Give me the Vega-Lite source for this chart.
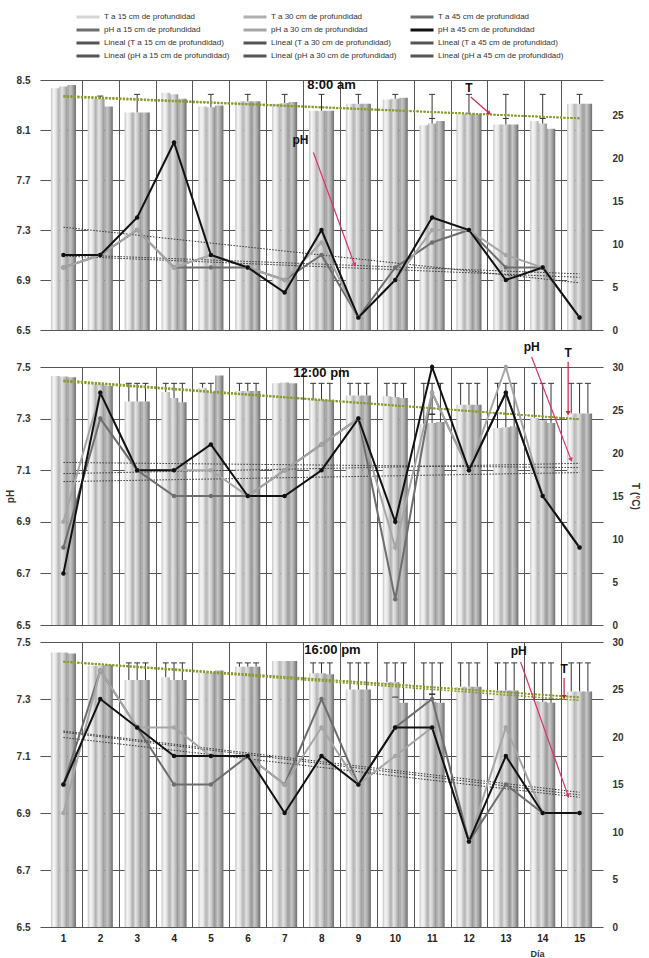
{
"$schema": "https://vega.github.io/schema/vega-lite/v6.json",
"padding": {"left": 5, "top": 12, "right": 2, "bottom": 0},
"config": {
  "view": {"stroke": null},
  "font": "Liberation Sans",
  "axis": {"labelFont": "Liberation Sans", "labelFontWeight": "bold", "labelFontSize": 10, "labelColor": "#333", "titleFont": "Liberation Sans", "titleFontWeight": "bold", "titleFontSize": 10, "titleColor": "#333", "gridColor": "#555", "gridWidth": 1, "gridOpacity": 1, "labelOverlap": false}
},
"datasets": {
"T": [
{"p":1,"d":1,"z":"15","T":28.1},{"p":1,"d":1,"z":"30","T":28.3},{"p":1,"d":1,"z":"45","T":28.5},
{"p":1,"d":2,"z":"15","T":26.9},{"p":1,"d":2,"z":"30","T":26.9,"hi":27.2},{"p":1,"d":2,"z":"45","T":26.0},
{"p":1,"d":3,"z":"15","T":25.3},{"p":1,"d":3,"z":"30","T":25.3,"hi":27.4},{"p":1,"d":3,"z":"45","T":25.3},
{"p":1,"d":4,"z":"15","T":27.6},{"p":1,"d":4,"z":"30","T":27.4},{"p":1,"d":4,"z":"45","T":26.9},
{"p":1,"d":5,"z":"15","T":26.0},{"p":1,"d":5,"z":"30","T":25.9,"hi":27.4},{"p":1,"d":5,"z":"45","T":26.1},
{"p":1,"d":6,"z":"15","T":26.6},{"p":1,"d":6,"z":"30","T":26.6,"hi":27.4},{"p":1,"d":6,"z":"45","T":26.6},
{"p":1,"d":7,"z":"15","T":26.3},{"p":1,"d":7,"z":"30","T":26.4,"hi":27.4},{"p":1,"d":7,"z":"45","T":26.5},
{"p":1,"d":8,"z":"15","T":25.5},{"p":1,"d":8,"z":"30","T":25.5,"hi":27.4},{"p":1,"d":8,"z":"45","T":25.5},
{"p":1,"d":9,"z":"15","T":26.3},{"p":1,"d":9,"z":"30","T":26.3,"hi":27.4},{"p":1,"d":9,"z":"45","T":26.3},
{"p":1,"d":10,"z":"15","T":26.8},{"p":1,"d":10,"z":"30","T":26.9,"hi":27.4},{"p":1,"d":10,"z":"45","T":27.0},
{"p":1,"d":11,"z":"15","T":23.8},{"p":1,"d":11,"z":"30","T":24.0,"hi":27.4,"lo":24.6},{"p":1,"d":11,"z":"45","T":24.3},
{"p":1,"d":12,"z":"15","T":25.1},{"p":1,"d":12,"z":"30","T":25.1,"hi":27.4},{"p":1,"d":12,"z":"45","T":25.1},
{"p":1,"d":13,"z":"15","T":23.9},{"p":1,"d":13,"z":"30","T":23.9,"hi":27.4,"lo":24.6},{"p":1,"d":13,"z":"45","T":23.9},
{"p":1,"d":14,"z":"15","T":24.3},{"p":1,"d":14,"z":"30","T":24.0,"hi":27.4,"lo":24.6},{"p":1,"d":14,"z":"45","T":23.4},
{"p":1,"d":15,"z":"15","T":26.3},{"p":1,"d":15,"z":"30","T":26.3,"hi":27.4},{"p":1,"d":15,"z":"45","T":26.3},
{"p":2,"d":1,"z":"15","T":28.95},{"p":2,"d":1,"z":"30","T":28.9},{"p":2,"d":1,"z":"45","T":28.8},
{"p":2,"d":2,"z":"15","T":28.0},{"p":2,"d":2,"z":"30","T":28.0},{"p":2,"d":2,"z":"45","T":27.8},
{"p":2,"d":3,"z":"15","T":26.0,"hi":28.1},{"p":2,"d":3,"z":"30","T":26.0,"hi":28.1},{"p":2,"d":3,"z":"45","T":26.0,"hi":28.1},
{"p":2,"d":4,"z":"15","T":27.1,"hi":28.1},{"p":2,"d":4,"z":"30","T":26.4,"hi":28.1},{"p":2,"d":4,"z":"45","T":25.9,"hi":28.1},
{"p":2,"d":5,"z":"15","T":27.6,"hi":28.1},{"p":2,"d":5,"z":"30","T":27.1,"hi":28.1},{"p":2,"d":5,"z":"45","T":29.0},
{"p":2,"d":6,"z":"15","T":27.2,"hi":28.1},{"p":2,"d":6,"z":"30","T":27.2,"hi":28.1},{"p":2,"d":6,"z":"45","T":27.2,"hi":28.1},
{"p":2,"d":7,"z":"15","T":28.1},{"p":2,"d":7,"z":"30","T":28.2},{"p":2,"d":7,"z":"45","T":28.1},
{"p":2,"d":8,"z":"15","T":26.2,"hi":28.1},{"p":2,"d":8,"z":"30","T":26.2,"hi":28.1},{"p":2,"d":8,"z":"45","T":26.2,"hi":28.1},
{"p":2,"d":9,"z":"15","T":26.7,"hi":28.1},{"p":2,"d":9,"z":"30","T":26.7,"hi":28.1},{"p":2,"d":9,"z":"45","T":26.7,"hi":28.1},
{"p":2,"d":10,"z":"15","T":26.6,"hi":28.1},{"p":2,"d":10,"z":"30","T":26.5,"hi":28.1},{"p":2,"d":10,"z":"45","T":26.4,"hi":28.1},
{"p":2,"d":11,"z":"15","T":23.4,"hi":28.1,"lo":24.5},{"p":2,"d":11,"z":"30","T":23.5,"hi":28.1,"lo":24.5},{"p":2,"d":11,"z":"45","T":23.6,"hi":28.1,"lo":24.5},
{"p":2,"d":12,"z":"15","T":25.6,"hi":28.1},{"p":2,"d":12,"z":"30","T":25.6,"hi":28.1},{"p":2,"d":12,"z":"45","T":25.6,"hi":28.1},
{"p":2,"d":13,"z":"15","T":22.9,"hi":28.1},{"p":2,"d":13,"z":"30","T":23.0,"hi":28.1},{"p":2,"d":13,"z":"45","T":23.1,"hi":28.1},
{"p":2,"d":14,"z":"15","T":24.1,"hi":28.1},{"p":2,"d":14,"z":"30","T":23.8,"hi":28.1},{"p":2,"d":14,"z":"45","T":23.5,"hi":28.1},
{"p":2,"d":15,"z":"15","T":24.6,"hi":28.1},{"p":2,"d":15,"z":"30","T":24.6,"hi":28.1},{"p":2,"d":15,"z":"45","T":24.6,"hi":28.1},
{"p":3,"d":1,"z":"15","T":28.9},{"p":3,"d":1,"z":"30","T":28.9},{"p":3,"d":1,"z":"45","T":28.8},
{"p":3,"d":2,"z":"15","T":27.5},{"p":3,"d":2,"z":"30","T":27.5},{"p":3,"d":2,"z":"45","T":27.6},
{"p":3,"d":3,"z":"15","T":26.0,"hi":27.8},{"p":3,"d":3,"z":"30","T":26.0,"hi":27.8},{"p":3,"d":3,"z":"45","T":26.0,"hi":27.8},
{"p":3,"d":4,"z":"15","T":26.3,"hi":27.8},{"p":3,"d":4,"z":"30","T":26.0,"hi":27.8},{"p":3,"d":4,"z":"45","T":26.0,"hi":27.8},
{"p":3,"d":5,"z":"15","T":26.8},{"p":3,"d":5,"z":"30","T":26.8},{"p":3,"d":5,"z":"45","T":27.0},
{"p":3,"d":6,"z":"15","T":27.4,"hi":27.8},{"p":3,"d":6,"z":"30","T":27.4,"hi":27.8},{"p":3,"d":6,"z":"45","T":27.4,"hi":27.8},
{"p":3,"d":7,"z":"15","T":28.0},{"p":3,"d":7,"z":"30","T":28.0},{"p":3,"d":7,"z":"45","T":28.0},
{"p":3,"d":8,"z":"15","T":26.7,"hi":27.8},{"p":3,"d":8,"z":"30","T":26.7,"hi":27.8},{"p":3,"d":8,"z":"45","T":26.6,"hi":27.8},
{"p":3,"d":9,"z":"15","T":25.0,"hi":27.8},{"p":3,"d":9,"z":"30","T":25.0,"hi":27.8},{"p":3,"d":9,"z":"45","T":25.0,"hi":27.8},
{"p":3,"d":10,"z":"15","T":25.8,"hi":27.8},{"p":3,"d":10,"z":"30","T":25.8,"hi":27.8},{"p":3,"d":10,"z":"45","T":23.6,"hi":27.8,"lo":24.2},
{"p":3,"d":11,"z":"15","T":23.9,"hi":27.8,"lo":24.5},{"p":3,"d":11,"z":"30","T":23.7,"hi":27.8,"lo":24.5},{"p":3,"d":11,"z":"45","T":23.6,"hi":27.8,"lo":24.5},
{"p":3,"d":12,"z":"15","T":25.3,"hi":27.8},{"p":3,"d":12,"z":"30","T":25.3,"hi":27.8},{"p":3,"d":12,"z":"45","T":25.3,"hi":27.8},
{"p":3,"d":13,"z":"15","T":24.9,"hi":27.8},{"p":3,"d":13,"z":"30","T":24.9,"hi":27.8},{"p":3,"d":13,"z":"45","T":24.9,"hi":27.8},
{"p":3,"d":14,"z":"15","T":23.8,"hi":27.8},{"p":3,"d":14,"z":"30","T":23.7,"hi":27.8},{"p":3,"d":14,"z":"45","T":23.6,"hi":27.8},
{"p":3,"d":15,"z":"15","T":24.8,"hi":27.8},{"p":3,"d":15,"z":"30","T":24.8,"hi":27.8},{"p":3,"d":15,"z":"45","T":24.8,"hi":27.8}
],
"pH": [
{"p":1,"d":1,"s":"pH a 15 cm de profundidad","v":7.0},{"p":1,"d":2,"s":"pH a 15 cm de profundidad","v":7.1},{"p":1,"d":3,"s":"pH a 15 cm de profundidad","v":7.3},{"p":1,"d":4,"s":"pH a 15 cm de profundidad","v":7.0},{"p":1,"d":5,"s":"pH a 15 cm de profundidad","v":7.0},{"p":1,"d":6,"s":"pH a 15 cm de profundidad","v":7.0},{"p":1,"d":7,"s":"pH a 15 cm de profundidad","v":6.9},{"p":1,"d":8,"s":"pH a 15 cm de profundidad","v":7.1},{"p":1,"d":9,"s":"pH a 15 cm de profundidad","v":6.6},{"p":1,"d":10,"s":"pH a 15 cm de profundidad","v":7.0},{"p":1,"d":11,"s":"pH a 15 cm de profundidad","v":7.2},{"p":1,"d":12,"s":"pH a 15 cm de profundidad","v":7.3},{"p":1,"d":13,"s":"pH a 15 cm de profundidad","v":7.0},{"p":1,"d":14,"s":"pH a 15 cm de profundidad","v":7.0},{"p":1,"d":15,"s":"pH a 15 cm de profundidad","v":6.6},
{"p":1,"d":1,"s":"pH a 30 cm de profundidad","v":7.0},{"p":1,"d":2,"s":"pH a 30 cm de profundidad","v":7.1},{"p":1,"d":3,"s":"pH a 30 cm de profundidad","v":7.3},{"p":1,"d":4,"s":"pH a 30 cm de profundidad","v":7.0},{"p":1,"d":5,"s":"pH a 30 cm de profundidad","v":7.1},{"p":1,"d":6,"s":"pH a 30 cm de profundidad","v":7.0},{"p":1,"d":7,"s":"pH a 30 cm de profundidad","v":6.9},{"p":1,"d":8,"s":"pH a 30 cm de profundidad","v":7.2},{"p":1,"d":9,"s":"pH a 30 cm de profundidad","v":6.6},{"p":1,"d":10,"s":"pH a 30 cm de profundidad","v":6.9},{"p":1,"d":11,"s":"pH a 30 cm de profundidad","v":7.3},{"p":1,"d":12,"s":"pH a 30 cm de profundidad","v":7.3},{"p":1,"d":13,"s":"pH a 30 cm de profundidad","v":7.1},{"p":1,"d":14,"s":"pH a 30 cm de profundidad","v":7.0},{"p":1,"d":15,"s":"pH a 30 cm de profundidad","v":6.6},
{"p":1,"d":1,"s":"pH a 45 cm de profundidad","v":7.1},{"p":1,"d":2,"s":"pH a 45 cm de profundidad","v":7.1},{"p":1,"d":3,"s":"pH a 45 cm de profundidad","v":7.4},{"p":1,"d":4,"s":"pH a 45 cm de profundidad","v":8.0},{"p":1,"d":5,"s":"pH a 45 cm de profundidad","v":7.1},{"p":1,"d":6,"s":"pH a 45 cm de profundidad","v":7.0},{"p":1,"d":7,"s":"pH a 45 cm de profundidad","v":6.8},{"p":1,"d":8,"s":"pH a 45 cm de profundidad","v":7.3},{"p":1,"d":9,"s":"pH a 45 cm de profundidad","v":6.6},{"p":1,"d":10,"s":"pH a 45 cm de profundidad","v":6.9},{"p":1,"d":11,"s":"pH a 45 cm de profundidad","v":7.4},{"p":1,"d":12,"s":"pH a 45 cm de profundidad","v":7.3},{"p":1,"d":13,"s":"pH a 45 cm de profundidad","v":6.9},{"p":1,"d":14,"s":"pH a 45 cm de profundidad","v":7.0},{"p":1,"d":15,"s":"pH a 45 cm de profundidad","v":6.6},
{"p":2,"d":1,"s":"pH a 15 cm de profundidad","v":6.8},{"p":2,"d":2,"s":"pH a 15 cm de profundidad","v":7.3},{"p":2,"d":3,"s":"pH a 15 cm de profundidad","v":7.1},{"p":2,"d":4,"s":"pH a 15 cm de profundidad","v":7.0},{"p":2,"d":5,"s":"pH a 15 cm de profundidad","v":7.0},{"p":2,"d":6,"s":"pH a 15 cm de profundidad","v":7.0},{"p":2,"d":7,"s":"pH a 15 cm de profundidad","v":7.1},{"p":2,"d":8,"s":"pH a 15 cm de profundidad","v":7.2},{"p":2,"d":9,"s":"pH a 15 cm de profundidad","v":7.3},{"p":2,"d":10,"s":"pH a 15 cm de profundidad","v":6.6},{"p":2,"d":11,"s":"pH a 15 cm de profundidad","v":7.4},{"p":2,"d":12,"s":"pH a 15 cm de profundidad","v":7.1},{"p":2,"d":13,"s":"pH a 15 cm de profundidad","v":7.4},{"p":2,"d":14,"s":"pH a 15 cm de profundidad","v":7.0},{"p":2,"d":15,"s":"pH a 15 cm de profundidad","v":6.8},
{"p":2,"d":1,"s":"pH a 30 cm de profundidad","v":6.9},{"p":2,"d":2,"s":"pH a 30 cm de profundidad","v":7.4},{"p":2,"d":3,"s":"pH a 30 cm de profundidad","v":7.1},{"p":2,"d":4,"s":"pH a 30 cm de profundidad","v":7.1},{"p":2,"d":5,"s":"pH a 30 cm de profundidad","v":7.1},{"p":2,"d":6,"s":"pH a 30 cm de profundidad","v":7.0},{"p":2,"d":7,"s":"pH a 30 cm de profundidad","v":7.1},{"p":2,"d":8,"s":"pH a 30 cm de profundidad","v":7.2},{"p":2,"d":9,"s":"pH a 30 cm de profundidad","v":7.3},{"p":2,"d":10,"s":"pH a 30 cm de profundidad","v":6.8},{"p":2,"d":11,"s":"pH a 30 cm de profundidad","v":7.4},{"p":2,"d":12,"s":"pH a 30 cm de profundidad","v":7.1},{"p":2,"d":13,"s":"pH a 30 cm de profundidad","v":7.5},{"p":2,"d":14,"s":"pH a 30 cm de profundidad","v":7.0},{"p":2,"d":15,"s":"pH a 30 cm de profundidad","v":6.8},
{"p":2,"d":1,"s":"pH a 45 cm de profundidad","v":6.7},{"p":2,"d":2,"s":"pH a 45 cm de profundidad","v":7.4},{"p":2,"d":3,"s":"pH a 45 cm de profundidad","v":7.1},{"p":2,"d":4,"s":"pH a 45 cm de profundidad","v":7.1},{"p":2,"d":5,"s":"pH a 45 cm de profundidad","v":7.2},{"p":2,"d":6,"s":"pH a 45 cm de profundidad","v":7.0},{"p":2,"d":7,"s":"pH a 45 cm de profundidad","v":7.0},{"p":2,"d":8,"s":"pH a 45 cm de profundidad","v":7.1},{"p":2,"d":9,"s":"pH a 45 cm de profundidad","v":7.3},{"p":2,"d":10,"s":"pH a 45 cm de profundidad","v":6.9},{"p":2,"d":11,"s":"pH a 45 cm de profundidad","v":7.5},{"p":2,"d":12,"s":"pH a 45 cm de profundidad","v":7.1},{"p":2,"d":13,"s":"pH a 45 cm de profundidad","v":7.4},{"p":2,"d":14,"s":"pH a 45 cm de profundidad","v":7.0},{"p":2,"d":15,"s":"pH a 45 cm de profundidad","v":6.8},
{"p":3,"d":1,"s":"pH a 15 cm de profundidad","v":7.0},{"p":3,"d":2,"s":"pH a 15 cm de profundidad","v":7.4},{"p":3,"d":3,"s":"pH a 15 cm de profundidad","v":7.2},{"p":3,"d":4,"s":"pH a 15 cm de profundidad","v":7.0},{"p":3,"d":5,"s":"pH a 15 cm de profundidad","v":7.0},{"p":3,"d":6,"s":"pH a 15 cm de profundidad","v":7.1},{"p":3,"d":7,"s":"pH a 15 cm de profundidad","v":7.0},{"p":3,"d":8,"s":"pH a 15 cm de profundidad","v":7.3},{"p":3,"d":9,"s":"pH a 15 cm de profundidad","v":7.0},{"p":3,"d":10,"s":"pH a 15 cm de profundidad","v":7.2},{"p":3,"d":11,"s":"pH a 15 cm de profundidad","v":7.3},{"p":3,"d":12,"s":"pH a 15 cm de profundidad","v":6.8},{"p":3,"d":13,"s":"pH a 15 cm de profundidad","v":7.0},{"p":3,"d":14,"s":"pH a 15 cm de profundidad","v":6.9},{"p":3,"d":15,"s":"pH a 15 cm de profundidad","v":6.9},
{"p":3,"d":1,"s":"pH a 30 cm de profundidad","v":6.9},{"p":3,"d":2,"s":"pH a 30 cm de profundidad","v":7.4},{"p":3,"d":3,"s":"pH a 30 cm de profundidad","v":7.2},{"p":3,"d":4,"s":"pH a 30 cm de profundidad","v":7.2},{"p":3,"d":5,"s":"pH a 30 cm de profundidad","v":7.1},{"p":3,"d":6,"s":"pH a 30 cm de profundidad","v":7.1},{"p":3,"d":7,"s":"pH a 30 cm de profundidad","v":7.0},{"p":3,"d":8,"s":"pH a 30 cm de profundidad","v":7.2},{"p":3,"d":9,"s":"pH a 30 cm de profundidad","v":7.0},{"p":3,"d":10,"s":"pH a 30 cm de profundidad","v":7.1},{"p":3,"d":11,"s":"pH a 30 cm de profundidad","v":7.2},{"p":3,"d":12,"s":"pH a 30 cm de profundidad","v":6.8},{"p":3,"d":13,"s":"pH a 30 cm de profundidad","v":7.2},{"p":3,"d":14,"s":"pH a 30 cm de profundidad","v":6.9},{"p":3,"d":15,"s":"pH a 30 cm de profundidad","v":6.9},
{"p":3,"d":1,"s":"pH a 45 cm de profundidad","v":7.0},{"p":3,"d":2,"s":"pH a 45 cm de profundidad","v":7.3},{"p":3,"d":3,"s":"pH a 45 cm de profundidad","v":7.2},{"p":3,"d":4,"s":"pH a 45 cm de profundidad","v":7.1},{"p":3,"d":5,"s":"pH a 45 cm de profundidad","v":7.1},{"p":3,"d":6,"s":"pH a 45 cm de profundidad","v":7.1},{"p":3,"d":7,"s":"pH a 45 cm de profundidad","v":6.9},{"p":3,"d":8,"s":"pH a 45 cm de profundidad","v":7.1},{"p":3,"d":9,"s":"pH a 45 cm de profundidad","v":7.0},{"p":3,"d":10,"s":"pH a 45 cm de profundidad","v":7.2},{"p":3,"d":11,"s":"pH a 45 cm de profundidad","v":7.2},{"p":3,"d":12,"s":"pH a 45 cm de profundidad","v":6.8},{"p":3,"d":13,"s":"pH a 45 cm de profundidad","v":7.1},{"p":3,"d":14,"s":"pH a 45 cm de profundidad","v":6.9},{"p":3,"d":15,"s":"pH a 45 cm de profundidad","v":6.9}
],
"notes": [
{"p":1,"k":"phtext","t":"pH","d":7.43,"v":8.02},
{"p":1,"k":"pharrow","d":7.78,"v":7.92,"d2":8.9,"v2":7.02},
{"p":1,"k":"ttext","t":"T","d":12.0,"v":28.1},
{"p":1,"k":"tarrow","d":12.05,"v":27.1,"d2":12.55,"v2":25.2},
{"p":2,"k":"phtext","t":"pH","d":13.7,"v":7.578},
{"p":2,"k":"pharrow","d":13.7,"v":7.539,"d2":14.77,"v2":7.14},
{"p":2,"k":"ttext","t":"T","d":14.69,"v":31.6},
{"p":2,"k":"tarrow","d":14.69,"v":30.6,"d2":14.69,"v2":24.65},
{"p":3,"k":"phtext","t":"pH","d":13.35,"v":7.47},
{"p":3,"k":"pharrow","d":13.4,"v":7.43,"d2":14.69,"v2":6.96},
{"p":3,"k":"ttext","t":"T","d":14.58,"v":27.2},
{"p":3,"k":"tarrow","d":14.58,"v":26.2,"d2":14.58,"v2":24.2}
]
},
"spacing": 37,
"bounds": "flush",
"vconcat": [
{
 "width": 563, "height": 250,
 "title": {"text": "8:00 am", "offset": -17, "dx": 10, "fontSize": 13, "fontWeight": "bold", "color": "#111", "anchor": "middle"},
 "resolve": {"scale": {"y": "independent"}},
 "layer": [
  {
   "layer": [
    {"data": {"name": "T"}, "transform": [{"filter": "datum.p === 1 && datum.z === '15'"}],
     "mark": {"type": "bar", "orient": "vertical", "width": 8.4, "xOffset": -8.33, "color": {"gradient": "linear", "x1": 0, "x2": 1, "y1": 0, "y2": 0, "stops": [{"offset": 0, "color": "#c4c4c4"}, {"offset": 0.3, "color": "#f6f6f6"}, {"offset": 0.6, "color": "#e4e4e4"}, {"offset": 1, "color": "#a8a8a8"}]}},
     "encoding": {"x": {"field": "d", "type": "quantitative", "scale": {"domain": [0.5, 15.5], "nice": false, "zero": false}, "axis": {"orient": "bottom", "values": [1.5,2.5,3.5,4.5,5.5,6.5,7.5,8.5,9.5,10.5,11.5,12.5,13.5,14.5], "grid": true, "labels": false, "ticks": false, "domain": false, "title": null}},
                  "y": {"field": "T", "type": "quantitative", "scale": {"domain": [0, 29.07], "nice": false}, "axis": {"orient": "right", "values": [0,5,10,15,20,25], "grid": false, "domain": false, "ticks": false, "labelPadding": 9, "labelOverlap": false, "title": null}}}},
    {"data": {"name": "T"}, "transform": [{"filter": "datum.p === 1 && datum.z === '30'"}],
     "mark": {"type": "bar", "orient": "vertical", "width": 8.4, "xOffset": 0, "color": {"gradient": "linear", "x1": 0, "x2": 1, "y1": 0, "y2": 0, "stops": [{"offset": 0, "color": "#b0b0b0"}, {"offset": 0.3, "color": "#e4e4e4"}, {"offset": 0.6, "color": "#c8c8c8"}, {"offset": 1, "color": "#8e8e8e"}]}},
     "encoding": {"x": {"field": "d", "type": "quantitative"}, "y": {"field": "T", "type": "quantitative"}}},
    {"data": {"name": "T"}, "transform": [{"filter": "datum.p === 1 && datum.z === '45'"}],
     "mark": {"type": "bar", "orient": "vertical", "width": 8.4, "xOffset": 8.33, "color": {"gradient": "linear", "x1": 0, "x2": 1, "y1": 0, "y2": 0, "stops": [{"offset": 0, "color": "#9a9a9a"}, {"offset": 0.3, "color": "#c8c8c8"}, {"offset": 0.6, "color": "#a8a8a8"}, {"offset": 1, "color": "#6c6c6c"}]}},
     "encoding": {"x": {"field": "d", "type": "quantitative"}, "y": {"field": "T", "type": "quantitative"}}},
    {"data": {"name": "T"}, "transform": [{"filter": "datum.p === 1 && isValid(datum.hi)"}],
     "mark": {"type": "rule", "color": "#333", "strokeWidth": 1},
     "encoding": {"x": {"field": "d", "type": "quantitative"}, "y": {"field": "T", "type": "quantitative"}, "y2": {"field": "hi"}}},
    {"data": {"name": "T"}, "transform": [{"filter": "datum.p === 1 && isValid(datum.hi)"}],
     "mark": {"type": "point", "shape": "stroke", "size": 36, "color": "#333", "strokeWidth": 1, "filled": false, "opacity": 1},
     "encoding": {"x": {"field": "d", "type": "quantitative"}, "y": {"field": "hi", "type": "quantitative"}}},
    {"data": {"name": "T"}, "transform": [{"filter": "datum.p === 1 && isValid(datum.lo)"}],
     "mark": {"type": "point", "shape": "stroke", "size": 36, "color": "#333", "strokeWidth": 1, "filled": false, "opacity": 1},
     "encoding": {"x": {"field": "d", "type": "quantitative"}, "y": {"field": "lo", "type": "quantitative"}}},
    {"data": {"name": "T"}, "transform": [{"filter": "datum.p === 1"}, {"regression": "T", "on": "d", "groupby": ["z"]}],
     "mark": {"type": "line", "color": "#8c9a2a", "strokeDash": [2, 1.5], "strokeWidth": 1.6},
     "encoding": {"x": {"field": "d", "type": "quantitative"}, "y": {"field": "T", "type": "quantitative"}, "detail": {"field": "z"}}},
    {"data": {"name": "notes"}, "transform": [{"filter": "datum.p === 1 && datum.k === 'tarrow'"}],
     "mark": {"type": "rule", "color": "#d8244a", "strokeWidth": 1.2},
     "encoding": {"x": {"field": "d", "type": "quantitative"}, "y": {"field": "v", "type": "quantitative"}, "x2": {"field": "d2"}, "y2": {"field": "v2"}}},
    {"data": {"name": "notes"}, "transform": [{"filter": "datum.p === 1 && datum.k === 'tarrow'"}],
     "mark": {"type": "point", "shape": "triangle-down", "filled": true, "size": 24, "color": "#d8244a", "opacity": 1, "angle": 310},
     "encoding": {"x": {"field": "d2", "type": "quantitative"}, "y": {"field": "v2", "type": "quantitative"}}},
    {"data": {"name": "notes"}, "transform": [{"filter": "datum.p === 1 && datum.k === 'ttext'"}],
     "mark": {"type": "text", "fontSize": 12, "fontWeight": "bold", "color": "#111"},
     "encoding": {"x": {"field": "d", "type": "quantitative"}, "y": {"field": "v", "type": "quantitative"}, "text": {"field": "t"}}}
   ]
  },
  {
   "layer": [
    {"data": {"name": "pH"}, "transform": [{"filter": "datum.p === 1"}, {"regression": "v", "on": "d", "groupby": ["s"]}],
     "mark": {"type": "line", "color": "#333", "strokeDash": [1.5, 1.5], "strokeWidth": 1},
     "encoding": {"x": {"field": "d", "type": "quantitative", "axis": {"orient": "bottom", "values": [1.5,2.5,3.5,4.5,5.5,6.5,7.5,8.5,9.5,10.5,11.5,12.5,13.5,14.5], "grid": true, "labels": false, "ticks": false, "domain": false, "title": null}},
                  "y": {"field": "v", "type": "quantitative", "scale": {"domain": [6.5, 8.5], "nice": false, "zero": false}, "axis": {"orient": "left", "values": [6.5,6.7,6.9,7.1,7.3,7.5,7.7,7.9,8.1,8.3,8.5], "format": ".1f", "grid": true, "domain": false, "ticks": false, "labelPadding": 10, "labelOverlap": false, "labelSeparation": -40, "title": null}},
                  "detail": {"field": "s"}}},
    {"data": {"name": "pH"}, "transform": [{"filter": "datum.p === 1"}],
     "mark": {"type": "line", "strokeWidth": 2, "point": {"filled": true, "size": 20}},
     "encoding": {"x": {"field": "d", "type": "quantitative"},
                  "y": {"field": "v", "type": "quantitative"},
                  "color": {"field": "s", "type": "nominal",
                    "scale": {"domain": ["T a 15 cm de profundidad","T a 30 cm de profundidad","T a 45 cm de profundidad","pH a 15 cm de profundidad","pH a 30 cm de profundidad","pH a 45 cm de profundidad","Lineal (T a 15 cm de profundidad)","Lineal (T a 30 cm de profundidad)","Lineal (T a 45 cm de profundidad)","Lineal (pH a 15 cm de profundidad)","Lineal (pH a 30 cm de profundidad)","Lineal (pH a 45 cm de profundidad)"], "range": ["#d6d6d6","#b0b0b0","#6e6e6e","#6e6e6e","#a6a6a6","#111111","#555555","#555555","#555555","#555555","#555555","#555555"]},
                    "legend": {"title": null, "orient": "none", "legendX": 35, "legendY": -68, "columns": 3, "direction": "horizontal", "symbolType": "stroke", "symbolSize": 529, "symbolStrokeWidth": 3, "clipHeight": 10, "rowPadding": 3, "columnPadding": 12, "labelOffset": 3, "labelFontSize": 8, "labelFont": "Liberation Sans", "labelColor": "#333", "labelLimit": 0}}}},
    {"data": {"name": "notes"}, "transform": [{"filter": "datum.p === 1 && datum.k === 'pharrow'"}],
     "mark": {"type": "rule", "color": "#e0306a", "strokeWidth": 1.2},
     "encoding": {"x": {"field": "d", "type": "quantitative"}, "y": {"field": "v", "type": "quantitative"}, "x2": {"field": "d2"}, "y2": {"field": "v2"}}},
    {"data": {"name": "notes"}, "transform": [{"filter": "datum.p === 1 && datum.k === 'pharrow'"}],
     "mark": {"type": "point", "shape": "triangle-down", "filled": true, "size": 24, "color": "#e0306a", "opacity": 1, "angle": 340},
     "encoding": {"x": {"field": "d2", "type": "quantitative"}, "y": {"field": "v2", "type": "quantitative"}}},
    {"data": {"name": "notes"}, "transform": [{"filter": "datum.p === 1 && datum.k === 'phtext'"}],
     "mark": {"type": "text", "fontSize": 12, "fontWeight": "bold", "color": "#111"},
     "encoding": {"x": {"field": "d", "type": "quantitative"}, "y": {"field": "v", "type": "quantitative"}, "text": {"field": "t"}}}
   ]
  }
 ]
},
{
 "spacing": 17,
 "bounds": "flush",
 "vconcat": [
 {
 "width": 563, "height": 258,
 "title": {"text": "12:00 pm", "offset": -39, "dx": 0, "fontSize": 13, "fontWeight": "bold", "color": "#111", "anchor": "middle"},
 "resolve": {"scale": {"y": "independent"}},
 "layer": [
  {
   "layer": [
    {"data": {"name": "T"}, "transform": [{"filter": "datum.p === 2 && datum.z === '15'"}],
     "mark": {"type": "bar", "orient": "vertical", "width": 8.4, "xOffset": -8.33, "color": {"gradient": "linear", "x1": 0, "x2": 1, "y1": 0, "y2": 0, "stops": [{"offset": 0, "color": "#c4c4c4"}, {"offset": 0.3, "color": "#f6f6f6"}, {"offset": 0.6, "color": "#e4e4e4"}, {"offset": 1, "color": "#a8a8a8"}]}},
     "encoding": {"x": {"field": "d", "type": "quantitative", "scale": {"domain": [0.5, 15.5], "nice": false, "zero": false}, "axis": {"orient": "bottom", "values": [1.5,2.5,3.5,4.5,5.5,6.5,7.5,8.5,9.5,10.5,11.5,12.5,13.5,14.5], "grid": true, "labels": false, "ticks": false, "domain": false, "title": null}},
                  "y": {"field": "T", "type": "quantitative", "scale": {"domain": [0, 30], "nice": false}, "axis": {"orient": "right", "values": [0,5,10,15,20,25,30], "grid": false, "domain": false, "ticks": false, "labelPadding": 9, "labelOverlap": false, "title": "T (°C)", "titlePadding": 6}}}},
    {"data": {"name": "T"}, "transform": [{"filter": "datum.p === 2 && datum.z === '30'"}],
     "mark": {"type": "bar", "orient": "vertical", "width": 8.4, "xOffset": 0, "color": {"gradient": "linear", "x1": 0, "x2": 1, "y1": 0, "y2": 0, "stops": [{"offset": 0, "color": "#b0b0b0"}, {"offset": 0.3, "color": "#e4e4e4"}, {"offset": 0.6, "color": "#c8c8c8"}, {"offset": 1, "color": "#8e8e8e"}]}},
     "encoding": {"x": {"field": "d", "type": "quantitative"}, "y": {"field": "T", "type": "quantitative"}}},
    {"data": {"name": "T"}, "transform": [{"filter": "datum.p === 2 && datum.z === '45'"}],
     "mark": {"type": "bar", "orient": "vertical", "width": 8.4, "xOffset": 8.33, "color": {"gradient": "linear", "x1": 0, "x2": 1, "y1": 0, "y2": 0, "stops": [{"offset": 0, "color": "#9a9a9a"}, {"offset": 0.3, "color": "#c8c8c8"}, {"offset": 0.6, "color": "#a8a8a8"}, {"offset": 1, "color": "#6c6c6c"}]}},
     "encoding": {"x": {"field": "d", "type": "quantitative"}, "y": {"field": "T", "type": "quantitative"}}},
    {"data": {"name": "T"}, "transform": [{"filter": "datum.p === 2 && datum.z === '15' && isValid(datum.hi)"}],
     "mark": {"type": "rule", "color": "#333", "strokeWidth": 1, "xOffset": -8.33},
     "encoding": {"x": {"field": "d", "type": "quantitative"}, "y": {"field": "T", "type": "quantitative"}, "y2": {"field": "hi"}}},
    {"data": {"name": "T"}, "transform": [{"filter": "datum.p === 2 && datum.z === '30' && isValid(datum.hi)"}],
     "mark": {"type": "rule", "color": "#333", "strokeWidth": 1, "xOffset": 0},
     "encoding": {"x": {"field": "d", "type": "quantitative"}, "y": {"field": "T", "type": "quantitative"}, "y2": {"field": "hi"}}},
    {"data": {"name": "T"}, "transform": [{"filter": "datum.p === 2 && datum.z === '45' && isValid(datum.hi)"}],
     "mark": {"type": "rule", "color": "#333", "strokeWidth": 1, "xOffset": 8.33},
     "encoding": {"x": {"field": "d", "type": "quantitative"}, "y": {"field": "T", "type": "quantitative"}, "y2": {"field": "hi"}}},
    {"data": {"name": "T"}, "transform": [{"filter": "datum.p === 2 && datum.z === '15' && isValid(datum.hi)"}],
     "mark": {"type": "point", "shape": "stroke", "size": 36, "color": "#333", "strokeWidth": 1, "filled": false, "opacity": 1, "xOffset": -8.33},
     "encoding": {"x": {"field": "d", "type": "quantitative"}, "y": {"field": "hi", "type": "quantitative"}}},
    {"data": {"name": "T"}, "transform": [{"filter": "datum.p === 2 && datum.z === '30' && isValid(datum.hi)"}],
     "mark": {"type": "point", "shape": "stroke", "size": 36, "color": "#333", "strokeWidth": 1, "filled": false, "opacity": 1, "xOffset": 0},
     "encoding": {"x": {"field": "d", "type": "quantitative"}, "y": {"field": "hi", "type": "quantitative"}}},
    {"data": {"name": "T"}, "transform": [{"filter": "datum.p === 2 && datum.z === '45' && isValid(datum.hi)"}],
     "mark": {"type": "point", "shape": "stroke", "size": 36, "color": "#333", "strokeWidth": 1, "filled": false, "opacity": 1, "xOffset": 8.33},
     "encoding": {"x": {"field": "d", "type": "quantitative"}, "y": {"field": "hi", "type": "quantitative"}}},
    {"data": {"name": "T"}, "transform": [{"filter": "datum.p === 2 && isValid(datum.lo)"}],
     "mark": {"type": "point", "shape": "stroke", "size": 36, "color": "#333", "strokeWidth": 1, "filled": false, "opacity": 1},
     "encoding": {"x": {"field": "d", "type": "quantitative"}, "y": {"field": "lo", "type": "quantitative"}}},
    {"data": {"name": "T"}, "transform": [{"filter": "datum.p === 2"}, {"regression": "T", "on": "d", "groupby": ["z"]}],
     "mark": {"type": "line", "color": "#8c9a2a", "strokeDash": [2, 1.5], "strokeWidth": 1.6},
     "encoding": {"x": {"field": "d", "type": "quantitative"}, "y": {"field": "T", "type": "quantitative"}, "detail": {"field": "z"}}},
    {"data": {"name": "notes"}, "transform": [{"filter": "datum.p === 2 && datum.k === 'tarrow'"}],
     "mark": {"type": "rule", "color": "#c8203a", "strokeWidth": 1.2},
     "encoding": {"x": {"field": "d", "type": "quantitative"}, "y": {"field": "v", "type": "quantitative"}, "x2": {"field": "d2"}, "y2": {"field": "v2"}}},
    {"data": {"name": "notes"}, "transform": [{"filter": "datum.p === 2 && datum.k === 'tarrow'"}],
     "mark": {"type": "point", "shape": "triangle-down", "filled": true, "size": 24, "color": "#c8203a", "opacity": 1, "angle": 0},
     "encoding": {"x": {"field": "d2", "type": "quantitative"}, "y": {"field": "v2", "type": "quantitative"}}},
    {"data": {"name": "notes"}, "transform": [{"filter": "datum.p === 2 && datum.k === 'ttext'"}],
     "mark": {"type": "text", "fontSize": 12, "fontWeight": "bold", "color": "#111"},
     "encoding": {"x": {"field": "d", "type": "quantitative"}, "y": {"field": "v", "type": "quantitative"}, "text": {"field": "t"}}}
   ]
  },
  {
   "layer": [
    {"data": {"name": "pH"}, "transform": [{"filter": "datum.p === 2"}, {"regression": "v", "on": "d", "groupby": ["s"]}],
     "mark": {"type": "line", "color": "#333", "strokeDash": [1.5, 1.5], "strokeWidth": 1},
     "encoding": {"x": {"field": "d", "type": "quantitative", "axis": {"orient": "bottom", "values": [1.5,2.5,3.5,4.5,5.5,6.5,7.5,8.5,9.5,10.5,11.5,12.5,13.5,14.5], "grid": true, "labels": false, "ticks": false, "domain": false, "title": null}},
                  "y": {"field": "v", "type": "quantitative", "scale": {"domain": [6.5, 7.5], "nice": false, "zero": false}, "axis": {"orient": "left", "values": [6.5,6.6,6.7,6.8,6.9,7.0,7.1,7.2,7.3,7.4,7.5], "format": "~g", "grid": true, "domain": false, "ticks": false, "labelPadding": 10, "labelOverlap": false, "labelSeparation": -40, "title": "pH", "titlePadding": 1}},
                  "detail": {"field": "s"}}},
    {"data": {"name": "pH"}, "transform": [{"filter": "datum.p === 2"}],
     "mark": {"type": "line", "strokeWidth": 2, "point": {"filled": true, "size": 20}},
     "encoding": {"x": {"field": "d", "type": "quantitative"},
                  "y": {"field": "v", "type": "quantitative"},
                  "color": {"field": "s", "type": "nominal"}}},
    {"data": {"name": "notes"}, "transform": [{"filter": "datum.p === 2 && datum.k === 'pharrow'"}],
     "mark": {"type": "rule", "color": "#e0306a", "strokeWidth": 1.2},
     "encoding": {"x": {"field": "d", "type": "quantitative"}, "y": {"field": "v", "type": "quantitative"}, "x2": {"field": "d2"}, "y2": {"field": "v2"}}},
    {"data": {"name": "notes"}, "transform": [{"filter": "datum.p === 2 && datum.k === 'pharrow'"}],
     "mark": {"type": "point", "shape": "triangle-down", "filled": true, "size": 24, "color": "#e0306a", "opacity": 1, "angle": 339},
     "encoding": {"x": {"field": "d2", "type": "quantitative"}, "y": {"field": "v2", "type": "quantitative"}}},
    {"data": {"name": "notes"}, "transform": [{"filter": "datum.p === 2 && datum.k === 'phtext'"}],
     "mark": {"type": "text", "fontSize": 12, "fontWeight": "bold", "color": "#111"},
     "encoding": {"x": {"field": "d", "type": "quantitative"}, "y": {"field": "v", "type": "quantitative"}, "text": {"field": "t"}}}
   ]
  }
 ]
 },
 {
 "width": 563, "height": 285,
 "title": {"text": "16:00 pm", "offset": -20, "dx": 11, "fontSize": 13, "fontWeight": "bold", "color": "#111", "anchor": "middle"},
 "resolve": {"scale": {"y": "independent"}},
 "layer": [
  {
   "layer": [
    {"data": {"name": "T"}, "transform": [{"filter": "datum.p === 3 && datum.z === '15'"}],
     "mark": {"type": "bar", "orient": "vertical", "width": 8.4, "xOffset": -8.33, "color": {"gradient": "linear", "x1": 0, "x2": 1, "y1": 0, "y2": 0, "stops": [{"offset": 0, "color": "#c4c4c4"}, {"offset": 0.3, "color": "#f6f6f6"}, {"offset": 0.6, "color": "#e4e4e4"}, {"offset": 1, "color": "#a8a8a8"}]}},
     "encoding": {"x": {"field": "d", "type": "quantitative", "scale": {"domain": [0.5, 15.5], "nice": false, "zero": false}, "axis": {"orient": "bottom", "values": [1.5,2.5,3.5,4.5,5.5,6.5,7.5,8.5,9.5,10.5,11.5,12.5,13.5,14.5,15.5], "grid": true, "gridOpacity": {"condition": {"test": "datum.value > 15", "value": 0}, "value": 1}, "labelExpr": "datum.value - 0.5", "labelOffset": -18.77, "labelPadding": 6, "labelColor": "#222", "labelOverlap": false, "ticks": false, "domain": false, "title": "Día", "titleX": 497, "titleY": 26, "titleBaseline": "middle", "titleFontSize": 9}},
                  "y": {"field": "T", "type": "quantitative", "scale": {"domain": [0, 30], "nice": false}, "axis": {"orient": "right", "values": [0,5,10,15,20,25,30], "grid": false, "domain": false, "ticks": false, "labelPadding": 9, "labelOverlap": false, "title": null}}}},
    {"data": {"name": "T"}, "transform": [{"filter": "datum.p === 3 && datum.z === '30'"}],
     "mark": {"type": "bar", "orient": "vertical", "width": 8.4, "xOffset": 0, "color": {"gradient": "linear", "x1": 0, "x2": 1, "y1": 0, "y2": 0, "stops": [{"offset": 0, "color": "#b0b0b0"}, {"offset": 0.3, "color": "#e4e4e4"}, {"offset": 0.6, "color": "#c8c8c8"}, {"offset": 1, "color": "#8e8e8e"}]}},
     "encoding": {"x": {"field": "d", "type": "quantitative"}, "y": {"field": "T", "type": "quantitative"}}},
    {"data": {"name": "T"}, "transform": [{"filter": "datum.p === 3 && datum.z === '45'"}],
     "mark": {"type": "bar", "orient": "vertical", "width": 8.4, "xOffset": 8.33, "color": {"gradient": "linear", "x1": 0, "x2": 1, "y1": 0, "y2": 0, "stops": [{"offset": 0, "color": "#9a9a9a"}, {"offset": 0.3, "color": "#c8c8c8"}, {"offset": 0.6, "color": "#a8a8a8"}, {"offset": 1, "color": "#6c6c6c"}]}},
     "encoding": {"x": {"field": "d", "type": "quantitative"}, "y": {"field": "T", "type": "quantitative"}}},
    {"data": {"name": "T"}, "transform": [{"filter": "datum.p === 3 && datum.z === '15' && isValid(datum.hi)"}],
     "mark": {"type": "rule", "color": "#333", "strokeWidth": 1, "xOffset": -8.33},
     "encoding": {"x": {"field": "d", "type": "quantitative"}, "y": {"field": "T", "type": "quantitative"}, "y2": {"field": "hi"}}},
    {"data": {"name": "T"}, "transform": [{"filter": "datum.p === 3 && datum.z === '30' && isValid(datum.hi)"}],
     "mark": {"type": "rule", "color": "#333", "strokeWidth": 1, "xOffset": 0},
     "encoding": {"x": {"field": "d", "type": "quantitative"}, "y": {"field": "T", "type": "quantitative"}, "y2": {"field": "hi"}}},
    {"data": {"name": "T"}, "transform": [{"filter": "datum.p === 3 && datum.z === '45' && isValid(datum.hi)"}],
     "mark": {"type": "rule", "color": "#333", "strokeWidth": 1, "xOffset": 8.33},
     "encoding": {"x": {"field": "d", "type": "quantitative"}, "y": {"field": "T", "type": "quantitative"}, "y2": {"field": "hi"}}},
    {"data": {"name": "T"}, "transform": [{"filter": "datum.p === 3 && datum.z === '15' && isValid(datum.hi)"}],
     "mark": {"type": "point", "shape": "stroke", "size": 36, "color": "#333", "strokeWidth": 1, "filled": false, "opacity": 1, "xOffset": -8.33},
     "encoding": {"x": {"field": "d", "type": "quantitative"}, "y": {"field": "hi", "type": "quantitative"}}},
    {"data": {"name": "T"}, "transform": [{"filter": "datum.p === 3 && datum.z === '30' && isValid(datum.hi)"}],
     "mark": {"type": "point", "shape": "stroke", "size": 36, "color": "#333", "strokeWidth": 1, "filled": false, "opacity": 1, "xOffset": 0},
     "encoding": {"x": {"field": "d", "type": "quantitative"}, "y": {"field": "hi", "type": "quantitative"}}},
    {"data": {"name": "T"}, "transform": [{"filter": "datum.p === 3 && datum.z === '45' && isValid(datum.hi)"}],
     "mark": {"type": "point", "shape": "stroke", "size": 36, "color": "#333", "strokeWidth": 1, "filled": false, "opacity": 1, "xOffset": 8.33},
     "encoding": {"x": {"field": "d", "type": "quantitative"}, "y": {"field": "hi", "type": "quantitative"}}},
    {"data": {"name": "T"}, "transform": [{"filter": "datum.p === 3 && isValid(datum.lo)"}],
     "mark": {"type": "point", "shape": "stroke", "size": 36, "color": "#333", "strokeWidth": 1, "filled": false, "opacity": 1},
     "encoding": {"x": {"field": "d", "type": "quantitative"}, "y": {"field": "lo", "type": "quantitative"}}},
    {"data": {"name": "T"}, "transform": [{"filter": "datum.p === 3"}, {"regression": "T", "on": "d", "groupby": ["z"]}],
     "mark": {"type": "line", "color": "#8c9a2a", "strokeDash": [2, 1.5], "strokeWidth": 1.6},
     "encoding": {"x": {"field": "d", "type": "quantitative"}, "y": {"field": "T", "type": "quantitative"}, "detail": {"field": "z"}}},
    {"data": {"name": "notes"}, "transform": [{"filter": "datum.p === 3 && datum.k === 'tarrow'"}],
     "mark": {"type": "rule", "color": "#c8203a", "strokeWidth": 1.2},
     "encoding": {"x": {"field": "d", "type": "quantitative"}, "y": {"field": "v", "type": "quantitative"}, "x2": {"field": "d2"}, "y2": {"field": "v2"}}},
    {"data": {"name": "notes"}, "transform": [{"filter": "datum.p === 3 && datum.k === 'tarrow'"}],
     "mark": {"type": "point", "shape": "triangle-down", "filled": true, "size": 24, "color": "#c8203a", "opacity": 1, "angle": 0},
     "encoding": {"x": {"field": "d2", "type": "quantitative"}, "y": {"field": "v2", "type": "quantitative"}}},
    {"data": {"name": "notes"}, "transform": [{"filter": "datum.p === 3 && datum.k === 'ttext'"}],
     "mark": {"type": "text", "fontSize": 12, "fontWeight": "bold", "color": "#111"},
     "encoding": {"x": {"field": "d", "type": "quantitative"}, "y": {"field": "v", "type": "quantitative"}, "text": {"field": "t"}}}
   ]
  },
  {
   "layer": [
    {"data": {"name": "pH"}, "transform": [{"filter": "datum.p === 3"}, {"regression": "v", "on": "d", "groupby": ["s"]}],
     "mark": {"type": "line", "color": "#333", "strokeDash": [1.5, 1.5], "strokeWidth": 1},
     "encoding": {"x": {"field": "d", "type": "quantitative", "axis": {"orient": "bottom", "values": [1.5,2.5,3.5,4.5,5.5,6.5,7.5,8.5,9.5,10.5,11.5,12.5,13.5,14.5,15.5], "grid": true, "gridOpacity": {"condition": {"test": "datum.value > 15", "value": 0}, "value": 1}, "labelExpr": "datum.value - 0.5", "labelOffset": -18.77, "labelPadding": 6, "labelColor": "#222", "labelOverlap": false, "ticks": false, "domain": false, "title": "Día", "titleX": 497, "titleY": 26, "titleBaseline": "middle", "titleFontSize": 9}},
                  "y": {"field": "v", "type": "quantitative", "scale": {"domain": [6.5, 7.5], "nice": false, "zero": false}, "axis": {"orient": "left", "values": [6.5,6.6,6.7,6.8,6.9,7.0,7.1,7.2,7.3,7.4,7.5], "format": "~g", "grid": true, "domain": false, "ticks": false, "labelPadding": 10, "labelOverlap": false, "labelSeparation": -40, "title": null}},
                  "detail": {"field": "s"}}},
    {"data": {"name": "pH"}, "transform": [{"filter": "datum.p === 3"}],
     "mark": {"type": "line", "strokeWidth": 2, "point": {"filled": true, "size": 20}},
     "encoding": {"x": {"field": "d", "type": "quantitative"},
                  "y": {"field": "v", "type": "quantitative"},
                  "color": {"field": "s", "type": "nominal"}}},
    {"data": {"name": "notes"}, "transform": [{"filter": "datum.p === 3 && datum.k === 'pharrow'"}],
     "mark": {"type": "rule", "color": "#e0306a", "strokeWidth": 1.2},
     "encoding": {"x": {"field": "d", "type": "quantitative"}, "y": {"field": "v", "type": "quantitative"}, "x2": {"field": "d2"}, "y2": {"field": "v2"}}},
    {"data": {"name": "notes"}, "transform": [{"filter": "datum.p === 3 && datum.k === 'pharrow'"}],
     "mark": {"type": "point", "shape": "triangle-down", "filled": true, "size": 24, "color": "#e0306a", "opacity": 1, "angle": 340},
     "encoding": {"x": {"field": "d2", "type": "quantitative"}, "y": {"field": "v2", "type": "quantitative"}}},
    {"data": {"name": "notes"}, "transform": [{"filter": "datum.p === 3 && datum.k === 'phtext'"}],
     "mark": {"type": "text", "fontSize": 12, "fontWeight": "bold", "color": "#111"},
     "encoding": {"x": {"field": "d", "type": "quantitative"}, "y": {"field": "v", "type": "quantitative"}, "text": {"field": "t"}}}
   ]
  }
 ]
 }
 ]
}
]
}
